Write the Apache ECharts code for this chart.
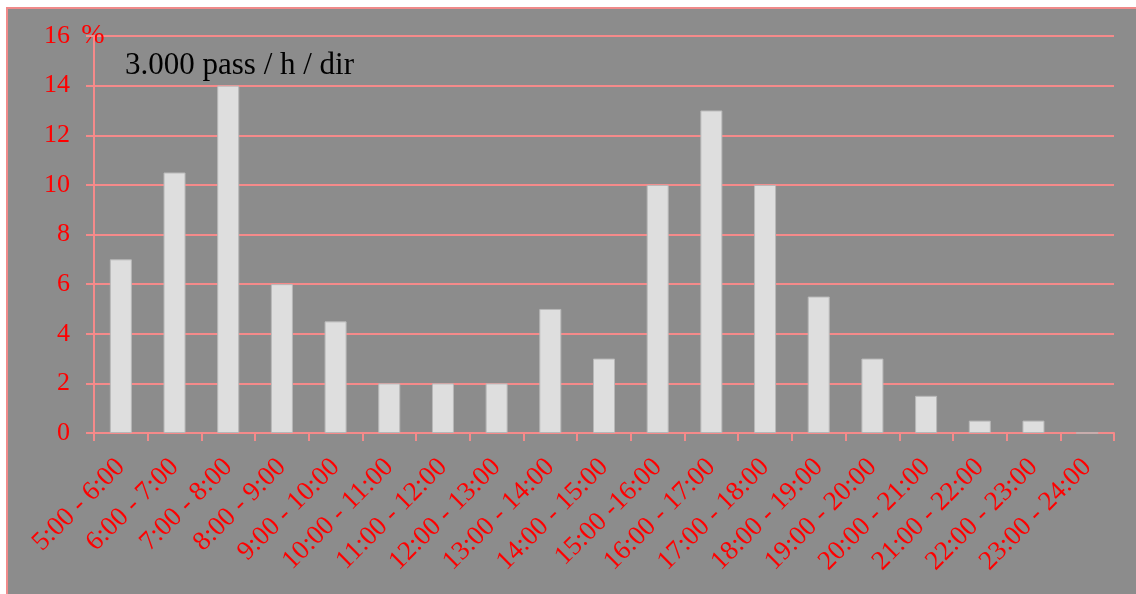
<!DOCTYPE html>
<html>
<head>
<meta charset="utf-8">
<script src="https://cdn.jsdelivr.net/npm/echarts@6/dist/echarts.min.js"></script>
<style>
html,body{margin:0;padding:0;background:#fff;overflow:hidden;width:1136px;height:594px;}
#panel{position:absolute;left:6px;top:7px;width:1140px;height:600px;background:#8c8c8c;border-top:2px solid #f08a8a;border-left:2px solid #f08a8a;box-sizing:border-box;}
#chart{position:absolute;left:0;top:0;width:1136px;height:594px;}
</style>
</head>
<body>
<div id="panel"></div>
<div id="chart"></div>
<script>
const categories = ["5:00 - 6:00","6:00 - 7:00","7:00 - 8:00","8:00 - 9:00","9:00 - 10:00","10:00 - 11:00","11:00 - 12:00","12:00 - 13:00","13:00 - 14:00","14:00 - 15:00","15:00 -16:00","16:00 - 17:00","17:00 - 18:00","18:00 - 19:00","19:00 - 20:00","20:00 - 21:00","21:00 - 22:00","22:00 - 23:00","23:00 - 24:00"];
const shares = [7,10.5,14,6,4.5,2,2,2,5,3,10,13,10,5.5,3,1.5,0.5,0.5,0];
const yTicks = [0,2,4,6,8,10,12,14,16];
const titleText = "3.000 pass / h / dir";
const unitText = "%";

const FONT = "Liberation Serif";
const GRID = "#f58a8a";
const chart = echarts.init(document.getElementById('chart'), null, {renderer:'canvas'});
chart.setOption({
  backgroundColor: 'transparent',
  animation: false,
  title: {
    text: titleText, left: 120, top: 45,
    textStyle: {fontFamily: FONT, fontSize: 31, fontWeight: 'normal', color: '#000'}
  },
  grid: {left: 94, right: 22, top: 36, bottom: 161, containLabel: false},
  xAxis: {
    type: 'category', data: categories, boundaryGap: true,
    axisLine: {show: true, lineStyle: {color: GRID, width: 2}},
    axisTick: {show: true, alignWithLabel: false, length: 8, lineStyle: {color: GRID, width: 2}},
    axisLabel: {rotate: 45, interval: 0, margin: 30, color: '#ff0000', fontFamily: FONT, fontSize: 27}
  },
  yAxis: {
    type: 'value', min: yTicks[0], max: yTicks[yTicks.length-1], interval: 2,
    name: unitText, nameLocation: 'end', nameGap: 0,
    nameTextStyle: {color: '#ff0000', fontFamily: FONT, fontSize: 28, verticalAlign: 'middle', align: 'center', padding: [0,2,0,0]},
    axisLine: {show: true, lineStyle: {color: GRID, width: 2}},
    axisTick: {show: true, length: 8, lineStyle: {color: GRID, width: 2}},
    axisLabel: {margin: 24, color: '#ff0000', fontFamily: FONT, fontSize: 26},
    splitLine: {show: true, lineStyle: {color: GRID, width: 2}}
  },
  series: [{
    type: 'bar', data: shares, barWidth: '41%',
    itemStyle: {color: '#dedede', borderColor: '#b8b8b8', borderWidth: 1}
  }]
});
</script>
</body>
</html>
